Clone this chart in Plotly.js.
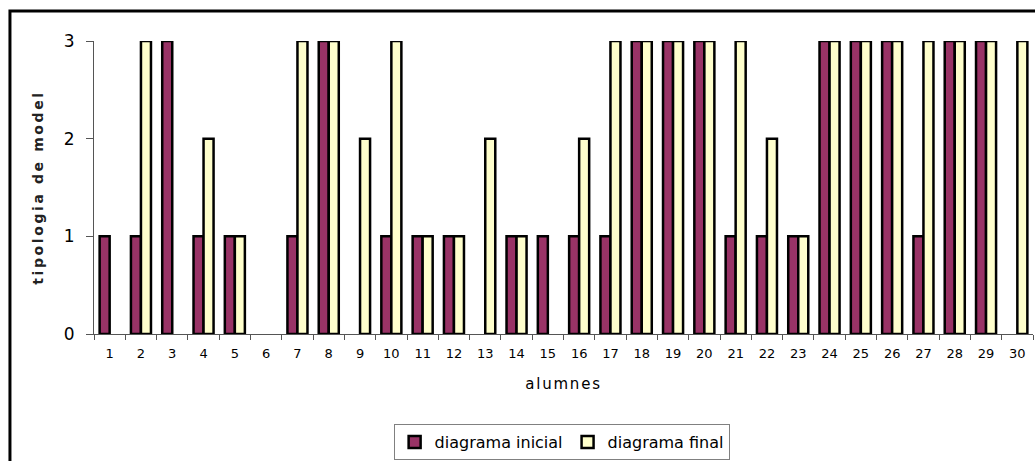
<!DOCTYPE html>
<html>
<head>
<meta charset="utf-8">
<script src="https://cdn.plot.ly/plotly-3.0.1.min.js"></script>
<style>
  html, body { margin: 0; padding: 0; background: #fff; }
  #chart { width: 1035px; height: 461px; }
  .g-ytitle text { letter-spacing: 2.6px; }
  .g-xtitle text { letter-spacing: 1.8px; }
</style>
</head>
<body>
<div id="chart"></div>
<script>
const alumnes = ["1","2","3","4","5","6","7","8","9","10","11","12","13","14","15",
                 "16","17","18","19","20","21","22","23","24","25","26","27","28","29","30"];
const diagramaInicial = [1,1,3,1,1,0,1,3,0,1,1,1,0,1,1,1,1,3,3,3,1,1,1,3,3,3,1,3,3,0];
const diagramaFinal   = [0,3,0,2,1,0,3,3,2,3,1,1,2,1,0,2,3,3,3,3,3,2,1,3,3,3,3,3,3,3];
const yTicks = [0, 1, 2, 3];

const font = "DejaVu Sans, Verdana, sans-serif";
// zero-height bars are not drawn in the original chart
const hideZero = arr => arr.map(v => (v === 0 ? null : v));

const traces = [
  {
    type: "bar", name: "diagrama inicial", x: alumnes, y: hideZero(diagramaInicial),
    marker: { color: "#993366", line: { color: "#000", width: 2.5 } }
  },
  {
    type: "bar", name: "diagrama final", x: alumnes, y: hideZero(diagramaFinal),
    marker: { color: "#FFFFCC", line: { color: "#000", width: 2.5 } }
  }
];

const layout = {
  width: 1035, height: 461,
  margin: { l: 94, r: 2, t: 41, b: 126 },
  paper_bgcolor: "#fff", plot_bgcolor: "#fff",
  barmode: "group", bargap: 0.36, bargroupgap: 0,
  font: { family: font, color: "#000" },
  showlegend: true,
  legend: {
    orientation: "h", x: 0.498, xanchor: "center", y: -0.303, yanchor: "top",
    bordercolor: "#808080", borderwidth: 1, font: { family: font, size: 16, color: "#000" },
    traceorder: "normal", itemwidth: 30
  },
  xaxis: {
    type: "category", tickson: "boundaries", ticks: "outside", ticklen: 5,
    tickcolor: "#555", showline: true, linecolor: "#555", linewidth: 1,
    showgrid: false, tickfont: { family: font, size: 13, color: "#000" },
    ticklabelstandoff: 7,
    title: { text: "alumnes", font: { family: font, size: 15, color: "#000" }, standoff: 18 },
    fixedrange: true
  },
  yaxis: {
    range: [0, 3], tickvals: yTicks, ticks: "outside", ticklen: 7,
    tickcolor: "#555", showline: true, linecolor: "#555", linewidth: 1,
    showgrid: false, zeroline: false, ticklabelstandoff: 8,
    tickfont: { family: font, size: 17, color: "#000" },
    title: { text: "tipologia de model", font: { family: font, size: 14, color: "#222", weight: "bold" }, standoff: 16 },
    fixedrange: true
  },
  shapes: [
    {
      type: "rect", xref: "paper", yref: "paper",
      x0: -0.0895, x1: 1.05, y0: -0.6, y1: 1.102,
      line: { color: "#000", width: 3 }, fillcolor: "rgba(0,0,0,0)", layer: "above"
    }
  ]
};

Plotly.newPlot("chart", traces, layout, { staticPlot: true, displayModeBar: false });
</script>
</body>
</html>
